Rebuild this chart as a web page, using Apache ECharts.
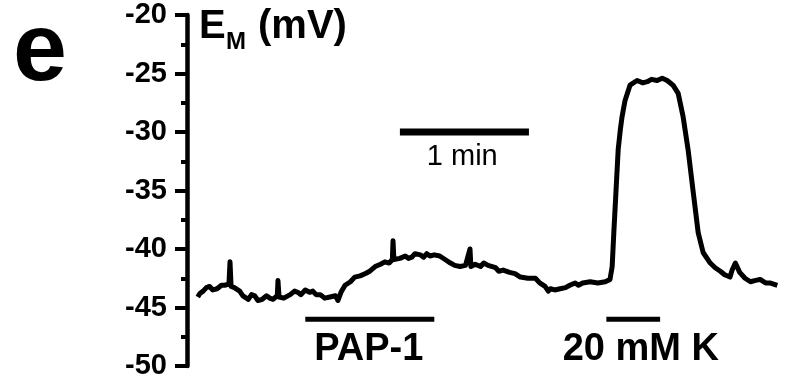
<!DOCTYPE html>
<html>
<head>
<meta charset="utf-8">
<script src="https://cdn.jsdelivr.net/npm/echarts@6/dist/echarts.min.js"></script>
<style>
  html, body { margin: 0; padding: 0; background: #fff; }
  #chart { width: 787px; height: 382px; }
</style>
</head>
<body>
<div id="chart"></div>
<script>
// membrane potential trace (time in s, EM in mV)
const timeSec = [
  5, 6, 7.5, 9, 10.5, 12, 14, 16, 17.5, 19.5, 20, 20.5, 22, 24.5, 26, 28.5, 30, 31.5, 33, 35, 37, 38.5, 40, 42, 42.3, 42.8,
  45, 48, 50, 51.5, 53, 55, 57, 58.5, 60, 62, 64, 66.5, 69, 70.2, 71.6, 73.5, 76, 78, 80.5, 83, 85, 87.5,
  90, 92, 94, 95.5, 95.8, 96.2, 99, 101.5, 103, 104.5, 106, 108.5, 110, 111.5, 113, 115, 117.5, 120, 122.5,
  124.5, 127, 129.5, 131.6, 132, 134, 136.5, 138, 140, 143.5, 145, 147, 150, 152.5, 155, 158.5,
  162, 164, 166.5, 168, 169, 171, 173.5, 176, 178, 180.5, 182, 184, 187.5, 191, 194.5, 196.7,
  197.7, 198.5, 199.5, 200.5, 201.5, 202.3, 203.7, 206, 209.3, 212, 214, 216, 218.6, 221, 223.3,
  226, 228.4, 230.7, 233, 235.3, 237.7, 240, 243.3, 245.6, 248, 250, 252.5, 253.5, 255,
  257, 259.5, 262, 264, 266.5, 269, 271, 274.5
];
const emMv = [
  -44.1, -43.8, -43.6, -43.3, -43.2, -43.5, -43.4, -43.1, -43.1, -43.0, -41.1, -43.2, -43.3, -43.6, -44.0, -44.3, -43.9, -44.0, -44.4, -44.3, -44.0, -44.2, -44.3, -44.0, -42.7, -44.1,
  -44.2, -43.9, -43.6, -43.7, -43.9, -43.5, -43.7, -43.6, -43.9, -43.9, -44.2, -44.1, -44.0, -44.4, -43.7, -43.1, -42.8, -42.4, -42.3, -42.1, -41.9, -41.5,
  -41.3, -41.1, -41.2, -40.9, -39.3, -40.9, -40.8, -40.6, -40.8, -40.7, -40.4, -40.5, -40.7, -40.4, -40.6, -40.5, -40.6, -40.9, -41.2,
  -41.4, -41.5, -41.4, -40.0, -41.5, -41.3, -41.5, -41.2, -41.4, -41.6, -41.9, -41.8, -42.0, -42.1, -42.4, -42.5,
  -42.5, -42.9, -43.2, -43.6, -43.4, -43.5, -43.4, -43.3, -43.1, -42.9, -43.1, -42.9, -42.8, -42.9, -42.8, -42.6,
  -41.5, -38.5, -35.0, -31.5, -29.8, -28.7, -27.3, -26.0, -25.6, -25.8, -25.7, -25.5, -25.6, -25.4, -25.6,
  -26.0, -26.7, -28.7, -31.5, -35.0, -38.6, -40.3, -41.2, -41.6, -41.9, -42.2, -42.4, -41.8, -41.2,
  -42.0, -42.5, -42.8, -42.7, -42.6, -42.9, -42.9, -43.1
];

// horizontal bars: time scale (1 min) and application periods
const scaleBarX = [99, 159];
const scaleBarY = -30;
const pap1X = [55, 115];
const kX = [195, 220];
const applyY = -46;

// annotation texts, anchored in data units
const noteText = ['1 min', 'PAP-1', '20 mM K'];
const noteX = [128, 84.5, 211];
const noteY = [-32.1, -48.6, -48.6];

const yTicks = { min: -50, max: -20, step: 5 };

const chart = echarts.init(document.getElementById('chart'));

const font = 'Liberation Sans, Arial, Helvetica, sans-serif';

function barSeries(xs, y, width) {
    return {
        type: 'line',
        data: [[xs[0], y], [xs[1], y]],
        showSymbol: false,
        silent: true,
        lineStyle: { color: '#000', width: width, cap: 'butt' },
        animation: false
    };
}

const notes = noteText.map((t, i) => ({
    value: [noteX[i], noteY[i]],
    label: {
        show: true,
        formatter: t,
        position: 'inside',
        color: '#000',
        fontFamily: font,
        fontWeight: i === 0 ? 'normal' : 'bold',
        fontSize: i === 0 ? 29 : 38
    }
}));

const option = {
    animation: false,
    backgroundColor: '#fff',
    grid: { left: 187, top: 15, width: 600, bottom: 16, containLabel: false },
    xAxis: {
        type: 'value',
        min: 0,
        max: 279,
        show: false
    },
    yAxis: {
        type: 'value',
        min: yTicks.min,
        max: yTicks.max,
        interval: yTicks.step,
        axisLine: { show: true, lineStyle: { color: '#000', width: 4.5 } },
        axisTick: { show: true, length: 12, lineStyle: { color: '#000', width: 4 } },
        minorTick: { show: true, splitNumber: 2, length: 6, lineStyle: { color: '#000', width: 4 } },
        splitLine: { show: false },
        axisLabel: {
            color: '#000',
            fontFamily: font,
            fontWeight: 'bold',
            fontSize: 29,
            margin: 20
        }
    },
    series: [
        {
            type: 'line',
            data: timeSec.map((t, i) => [t, emMv[i]]),
            showSymbol: false,
            silent: true,
            lineStyle: { color: '#000', width: 5, join: 'round' }
        },
        barSeries(scaleBarX, scaleBarY, 7),
        barSeries(pap1X, applyY, 5),
        barSeries(kX, applyY, 5),
        {
            type: 'scatter',
            data: notes,
            symbolSize: 1,
            itemStyle: { color: 'rgba(0,0,0,0)', opacity: 1 },
            silent: true
        }
    ],
    graphic: [
        {
            type: 'text', left: 13, top: 5,
            style: { text: 'e', font: 'bold 97px ' + font, fill: '#000' }
        },
        {
            type: 'text', left: 199, top: 7,
            style: { text: 'E', font: 'bold 40px ' + font, fill: '#000' }
        },
        {
            type: 'text', left: 226, top: 30,
            style: { text: 'M', font: 'bold 24px ' + font, fill: '#000' }
        },
        {
            type: 'text', left: 258, top: 7,
            style: { text: '(mV)', font: 'bold 40px ' + font, fill: '#000' }
        }
    ]
};

chart.setOption(option);
</script>
</body>
</html>
